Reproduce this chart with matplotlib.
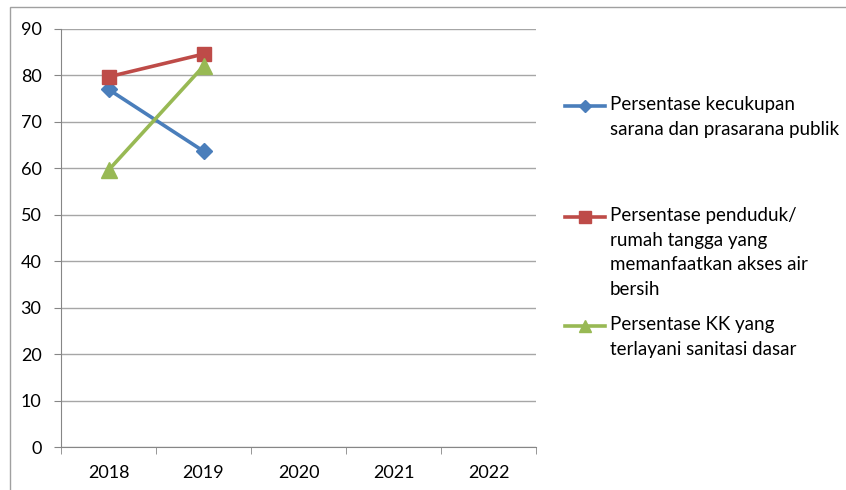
import numpy as np
import matplotlib.pyplot as plt
from matplotlib.lines import Line2D
from matplotlib.patches import Rectangle

years = ['2018', '2019', '2020', '2021', '2022']
sarana = [77.0, 63.7, np.nan, np.nan, np.nan]
air_bersih = [79.7, 84.6, np.nan, np.nan, np.nan]
sanitasi = [59.6, 82.0, np.nan, np.nan, np.nan]

labels = ['Persentase kecukupan\nsarana dan prasarana publik',
          'Persentase penduduk/\nrumah tangga yang\nmemanfaatkan akses air\nbersih',
          'Persentase KK yang\nterlayani sanitasi dasar']
colors = ['#4A7EBB', '#BE4B48', '#98B954']
markers = ['D', 's', '^']
msizes = [8, 10, 11]

plt.rcParams['font.family'] = ['Lato', 'DejaVu Sans']

fig = plt.figure(figsize=(8.46, 4.90), dpi=100)
ax = fig.add_axes([61 / 846, 1 - 447 / 490, 475 / 846, 418 / 490])

x = np.arange(len(years))
for vals, c, m, ms in zip([sarana, air_bersih, sanitasi], colors, markers, msizes):
    ax.plot(x, vals, color=c, lw=2.6, marker=m, ms=ms, mec=c, mfc=c)

ax.set_xlim(-0.5, 4.5)
ax.set_ylim(0, 90)
ax.set_yticks(np.arange(0, 91, 10))
ax.set_xticks(x)
ax.set_xticklabels(years)
ax.set_xticks(np.arange(-0.5, 4.6, 1), minor=True)
ax.tick_params(axis='x', which='major', length=0, pad=13, labelsize=13)
ax.tick_params(axis='x', which='minor', length=5, color='#868686')
ax.tick_params(axis='y', length=5, color='#868686', labelsize=13, pad=9)
ax.grid(axis='y', color='#a6a6a6', lw=1)
ax.set_axisbelow(True)
for s in ['top', 'right']:
    ax.spines[s].set_visible(False)
for s in ['left', 'bottom']:
    ax.spines[s].set_color('#868686')

# legend drawn by hand so handles line up with first text line
leg_y = [106, 217, 326]
for y, lab, c, m, ms in zip(leg_y, labels, colors, markers, msizes):
    fy = 1 - y / 490
    fig.add_artist(Line2D([565 / 846, 605 / 846], [fy, fy], color=c, lw=2.6,
                          transform=fig.transFigure))
    fig.add_artist(Line2D([585 / 846], [fy], color=c, marker=m, ms=ms * 0.8,
                          transform=fig.transFigure))
    fig.text(610 / 846, 1 - (y - 10) / 490, lab, fontsize=13.5, va='top',
             ha='left', linespacing=1.55, transform=fig.transFigure)

# outer chart border
fig.add_artist(Rectangle((10 / 846, -0.1), 1.0, 1 - 7 / 490 + 0.1, fill=False,
                         ec='#a0a0a0', lw=1, transform=fig.transFigure))

fig.savefig('out.png', dpi=100)
